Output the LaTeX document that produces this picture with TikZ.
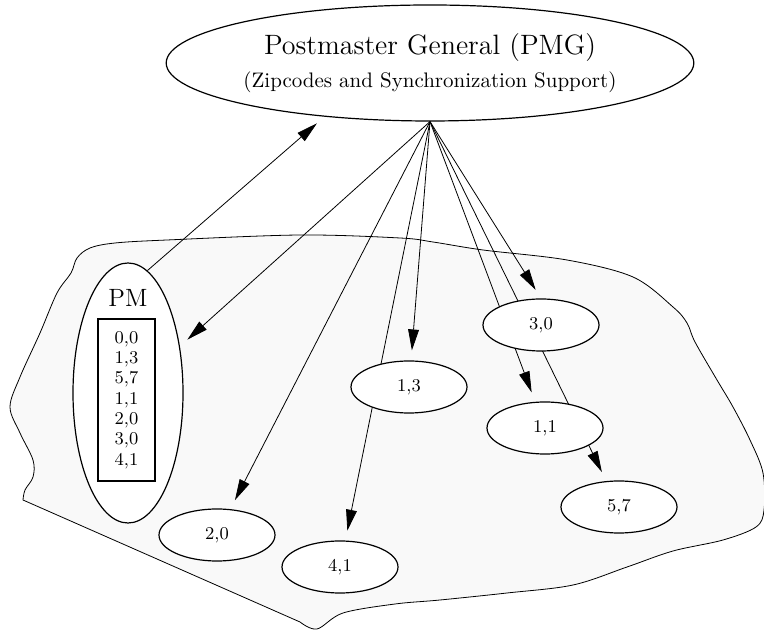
\documentclass[tikz,border=0pt]{standalone}
\usepackage{tikz}
\usetikzlibrary{shapes.geometric, arrows.meta}
\definecolor{blobgray}{RGB}{249,249,249}
\tikzstyle{zipnode}=[ellipse, draw, fill=white, inner sep=0pt, minimum width=58pt, minimum height=26pt, font=\fontsize{9}{10}\selectfont]
\tikzstyle{pmnode}=[ellipse, draw, fill=white, inner sep=0pt, minimum width=55pt, minimum height=130pt]
\tikzstyle{pmgnode}=[ellipse, draw, fill=white, inner sep=0pt, minimum width=228pt, minimum height=58pt, align=center, font=\fontsize{14}{16.5}\selectfont]
\tikzstyle{zipbox}=[rectangle, draw, inner sep=0pt, minimum width=28.5pt, minimum height=81pt, align=center, font=\fontsize{9}{10.15}\selectfont]
\newcommand{\zipnode}{\node[zipnode]}
\pgfdeclarelayer{blob}
\pgfdeclarelayer{edges}
\pgfsetlayers{blob,edges,main}

\begin{document}
\begin{tikzpicture}[x=0.5pt, y=0.5pt, line width=0.6pt,
	every edge/.style={
		draw, -{Triangle[length=10.5pt,width=5.4pt]}, shorten >=5pt
	}
	]
	\useasboundingbox (0,0) rectangle (764,630);
	\node[pmgnode] (pmg) at (430,567) {Postmaster General (PMG)\\{\fontsize{10.5}{16.5}\selectfont (Zipcodes and Synchronization Support)}};
	\node[pmnode] (pm) at (128,237) {};
	\node[font=\fontsize{12.5}{14}\selectfont] (pmtitle) at (128,332) {PM};
	\node[zipbox] (ziplist) at (126.5,230) {0,0\\1,3\\5,7\\1,1\\2,0\\3,0\\4,1};
	\zipnode (n30) at (541,305) {3,0};
	\zipnode (n13) at (409,243) {1,3};
	\zipnode (n11) at (545,202) {1,1};
	\zipnode (n57) at (619,123) {5,7};
	\zipnode (n41) at (340,63) {4,1};
	\zipnode (n20) at (217,95) {2,0};
	\begin{pgfonlayer}{edges}
	\path
	(pm.81) edge (pmg.207)
	(pmg.south) edge (pm)
	(pmg.south) edge (n20)
	(pmg.south) edge (n41)
	(pmg.south) edge (n13)
	(pmg.south) edge (n30.north)
	(pmg.south) edge (n11)
	(pmg.south) edge (n57)
	;
	\end{pgfonlayer}
	\begin{pgfonlayer}{blob}
	\draw[fill=blobgray] (23,130) -- plot[smooth, tension=.55] coordinates {
		(23,130) (25,140) (33,153) (33,170) (20,197) (10,223) (20,253)
		(40,297) (57,337) (71,357) (77,372) (90,382) (115,387) (167,390)
		(300,395) (400,392) (433,388) (483,380) (567,370) (633,353)
		(673,323) (687,307) (695,288) (717,250) (733,223) (750,190)
		(763,157) (764,120) (756,103) (723,90) (673,79) (627,63) (573,45)
		(507,37) (440,30) (395,26) (343,17) (317,1) (300,8)} -- cycle;
	\end{pgfonlayer}
\end{tikzpicture}
\end{document}
